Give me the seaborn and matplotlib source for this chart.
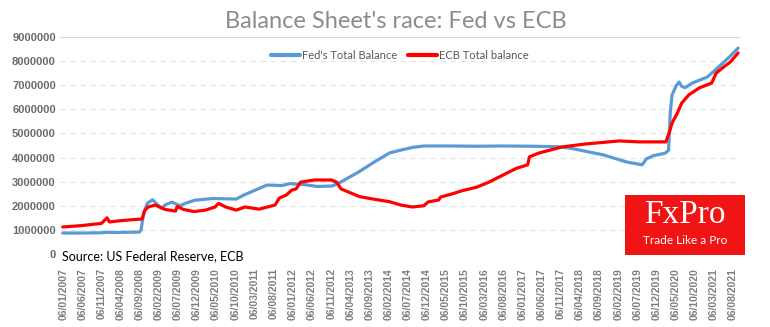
import matplotlib
matplotlib.use("Agg")
import matplotlib.pyplot as plt
from matplotlib.patches import Rectangle
import seaborn as sns
import pandas as pd

fed_dates = ["2007-01-03", "2007-06-06", "2007-11-07", "2007-12-26", "2008-03-05", "2008-06-04",
             "2008-09-03", "2008-09-17", "2008-10-01", "2008-10-15", "2008-11-05", "2008-12-17",
             "2009-01-14", "2009-02-25", "2009-04-01", "2009-05-20", "2009-07-22", "2009-09-02",
             "2009-11-18", "2010-04-07", "2010-10-13", "2010-12-15", "2011-06-15", "2011-10-12",
             "2011-12-14", "2012-04-04", "2012-07-18", "2012-11-14", "2013-01-09", "2013-06-12",
             "2013-10-16", "2014-02-12", "2014-05-14", "2014-08-13", "2014-11-12", "2015-06-03",
             "2016-01-06", "2016-08-03", "2017-03-08", "2017-10-11", "2018-01-10", "2018-10-10",
             "2019-04-10", "2019-08-14", "2019-09-18", "2019-11-13", "2020-02-12", "2020-03-11",
             "2020-03-25", "2020-04-08", "2020-05-13", "2020-06-03", "2020-06-24", "2020-07-22",
             "2020-09-16", "2021-01-13", "2021-04-14", "2021-07-07", "2021-09-15"]
fed_values = [870000, 870000, 880000, 900000, 890000, 900000,
              910000, 1000000, 1500000, 1800000, 2100000, 2250000,
              2100000, 1900000, 2050000, 2150000, 2000000, 2100000,
              2230000, 2300000, 2280000, 2450000, 2860000, 2840000,
              2920000, 2880000, 2800000, 2820000, 2950000, 3400000,
              3820000, 4190000, 4310000, 4420000, 4480000, 4480000,
              4470000, 4480000, 4470000, 4450000, 4400000, 4110000,
              3820000, 3700000, 3950000, 4080000, 4180000, 4300000,
              5900000, 6600000, 7000000, 7130000, 6950000, 6900000,
              7090000, 7340000, 7760000, 8170000, 8540000]

ecb_dates = ["2007-01-03", "2007-06-06", "2007-11-07", "2007-12-21", "2008-01-09", "2008-04-02",
             "2008-07-02", "2008-09-24", "2008-10-15", "2008-11-12", "2009-01-07", "2009-03-25",
             "2009-06-17", "2009-07-01", "2009-08-19", "2009-11-11", "2010-02-10", "2010-04-28",
             "2010-05-26", "2010-07-21", "2010-10-13", "2010-12-22", "2011-04-13", "2011-08-17",
             "2011-09-21", "2011-11-16", "2011-12-28", "2012-02-01", "2012-03-07", "2012-06-27",
             "2012-11-07", "2012-12-19", "2013-01-23", "2013-06-19", "2013-10-16", "2014-02-12",
             "2014-05-14", "2014-08-13", "2014-11-12", "2014-12-17", "2015-03-11", "2015-03-25",
             "2015-06-17", "2015-09-16", "2016-01-06", "2016-04-13", "2016-07-13", "2016-11-16",
             "2017-02-15", "2017-03-01", "2017-05-17", "2017-11-15", "2018-05-16", "2019-02-13",
             "2019-07-17", "2020-02-19", "2020-03-18", "2020-04-08", "2020-05-20", "2020-06-24",
             "2020-08-19", "2020-11-11", "2021-02-17", "2021-03-24", "2021-05-12", "2021-07-14",
             "2021-09-15"]
ecb_values = [1120000, 1180000, 1270000, 1500000, 1330000, 1380000,
              1420000, 1450000, 1800000, 1950000, 2030000, 1850000,
              1780000, 1970000, 1850000, 1760000, 1820000, 1950000,
              2100000, 1950000, 1820000, 1950000, 1860000, 2030000,
              2320000, 2450000, 2650000, 2700000, 2980000, 3070000,
              3070000, 2980000, 2700000, 2380000, 2270000, 2170000,
              2030000, 1950000, 2000000, 2160000, 2240000, 2360000,
              2480000, 2630000, 2770000, 2980000, 3220000, 3550000,
              3700000, 4030000, 4190000, 4440000, 4560000, 4690000,
              4650000, 4650000, 5060000, 5430000, 5850000, 6260000,
              6600000, 6890000, 7090000, 7500000, 7710000, 7960000,
              8340000]

series_names = ["Fed's Total Balance", "ECB Total balance"]
y_ticks = [0, 1000000, 2000000, 3000000, 4000000, 5000000, 6000000, 7000000, 8000000, 9000000]
x_tick_labels = ["06/01/2007", "06/06/2007", "06/11/2007", "06/04/2008", "06/09/2008", "06/02/2009",
                 "06/07/2009", "06/12/2009", "06/05/2010", "06/10/2010", "06/03/2011", "06/08/2011",
                 "06/01/2012", "06/06/2012", "06/11/2012", "06/04/2013", "06/09/2013", "06/02/2014",
                 "06/07/2014", "06/12/2014", "06/05/2015", "06/10/2015", "06/03/2016", "06/08/2016",
                 "06/01/2017", "06/06/2017", "06/11/2017", "06/04/2018", "06/09/2018", "06/02/2019",
                 "06/07/2019", "06/12/2019", "06/05/2020", "06/10/2020", "06/03/2021", "06/08/2021"]

df = pd.concat([
    pd.DataFrame({"date": pd.to_datetime(fed_dates), "value": fed_values, "series": series_names[0]}),
    pd.DataFrame({"date": pd.to_datetime(ecb_dates), "value": ecb_values, "series": series_names[1]}),
], ignore_index=True)

sns.set_style("white")
plt.rcParams["font.family"] = ["Lato", "DejaVu Sans"]

fig = plt.figure(figsize=(7.7, 3.27), dpi=100)
ax = fig.add_axes([60 / 770, 1 - 254 / 327, 680 / 770, 217 / 327])

sns.lineplot(data=df, x="date", y="value", hue="series", ax=ax,
             palette={series_names[0]: "#5B9BD5", series_names[1]: "#FF0000"},
             linewidth=2.3, estimator=None, sort=True)

ax.set_xlim(pd.Timestamp("2006-12-12"), pd.Timestamp("2021-09-30"))
ax.set_ylim(0, 9000000)
ax.set_yticks(y_ticks)
ax.set_yticklabels([str(v) for v in y_ticks], fontsize=8, fontweight="bold",
                   color="#6b6b6b", family=["Liberation Sans"])

tick_dates = pd.to_datetime(x_tick_labels, format="%d/%m/%Y")
ax.set_xticks(tick_dates)
ax.set_xticklabels(x_tick_labels, rotation=90,
                   fontsize=7.5, fontweight="bold", color="#7f7f7f", family=["Liberation Sans"])
ax.tick_params(axis="both", length=0, pad=3)
ax.tick_params(axis="x", pad=10)

for v in y_ticks[1:-1]:
    ax.axhline(v, color="#e3e3e3", lw=0.8, ls=(0, (5, 4)), zorder=0)
ax.axhline(9000000, color="#d9d9d9", lw=1.0, zorder=0)
for s in ax.spines.values():
    s.set_visible(False)
ax.set_xlabel("")
ax.set_ylabel("")

leg = ax.legend(loc="upper center", bbox_to_anchor=(0.5, 0.985), ncol=2, frameon=False,
                fontsize=8, handlelength=2.6, columnspacing=1.0, handletextpad=0.2)
for t in leg.get_texts():
    t.set_color("#595959")
for h in leg.get_lines():
    h.set_linewidth(3)

fig.text(396 / 770, 1 - 22 / 327, "Balance Sheet's race: Fed vs ECB", ha="center", va="center",
         fontsize=17, color="#8c8c8c", family=["Lato", "DejaVu Sans"])

fig.text(62 / 770, 1 - 256 / 327, "Source: US Federal Reserve, ECB", ha="left", va="center",
         fontsize=9, color="#000000", family=["Lato", "DejaVu Sans"])

fig.patches.append(Rectangle((625 / 770, 1 - 255 / 327), 120 / 770, 60 / 327,
                             transform=fig.transFigure, facecolor="#F01414", edgecolor="none",
                             zorder=5))
fig.text(685 / 770, 1 - 215 / 327, "FxPro", ha="center", va="center", fontsize=24,
         color="white", family=["Liberation Serif", "DejaVu Serif"], zorder=6)
fig.text(685 / 770, 1 - 240 / 327, "Trade Like a Pro", ha="center", va="center", fontsize=8.5,
         color="white", family=["Lato", "DejaVu Sans"], zorder=6)

fig.savefig("out.png", dpi=100)
